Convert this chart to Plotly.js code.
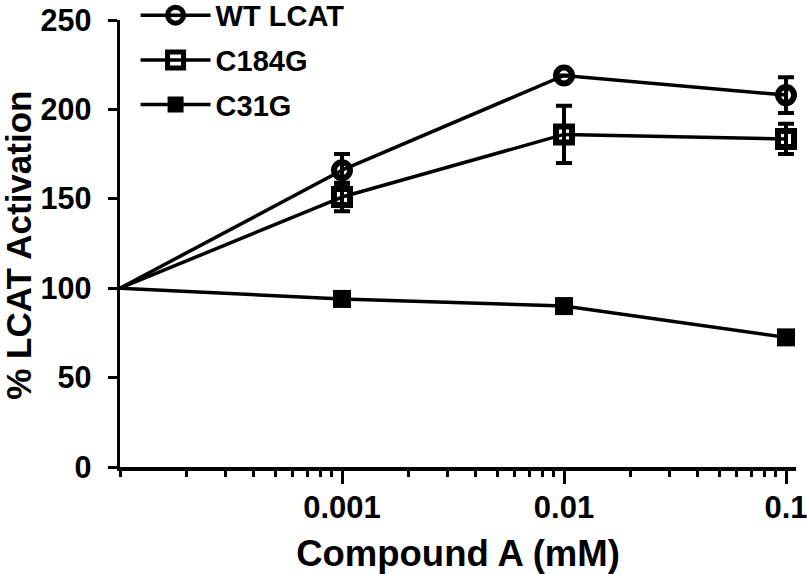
<!DOCTYPE html>
<html><head><meta charset="utf-8">
<script src="https://cdn.plot.ly/plotly-3.0.1.min.js"></script>
<style>html,body{margin:0;padding:0;background:#fff}</style>
</head><body><div id="chart" style="width:807px;height:574px"></div>
<script>
// ---- data ----
const baselineDose = 0.0001;   // untreated control, plotted at the axis origin
const baselineValue = 100;
const doses = [0.001, 0.01, 0.1];
const wtLCAT = [166, 219, 208];
const wtLCATErr = [9, 0, 10];
const c184G = [151, 186, 183.5];
const c184GErr = [8, 16, 8.5];
const c31G = [94, 90, 72.5];
const c31GErr = [1.5, 1.5, 1.5];
const seriesNames = ['WT LCAT', 'C184G', 'C31G'];
const xTickVals = [0.001, 0.01, 0.1];
const xTickText = ['0.001', '0.01', '0.1'];
const yTickVals = [0, 50, 100, 150, 200, 250];
const xTitle = 'Compound A (mM)';
const yTitle = '% LCAT Activation';

const FONT = 'Liberation Sans, Arial, Helvetica, sans-serif';
const series = [
  {name: seriesNames[0], y: wtLCAT, err: wtLCATErr, symbol: 'circle-open', size: 16},
  {name: seriesNames[1], y: c184G, err: c184GErr, symbol: 'square-open', size: 16},
  {name: seriesNames[2], y: c31G, err: c31GErr, symbol: 'square', size: 18}
];

const traces = [];
series.forEach(s => {
  traces.push({
    x: [baselineDose, doses[0]], y: [baselineValue, s.y[0]],
    mode: 'lines', line: {color: 'black', width: 3.5},
    showlegend: false, hoverinfo: 'skip', cliponaxis: false
  });
});
series.forEach((s, i) => {
  traces.push({
    x: doses, y: s.y, name: s.name, mode: 'lines+markers', legendgroup: 'g' + i,
    line: {color: 'black', width: 3.5},
    marker: {symbol: s.symbol, size: s.size, color: 'black',
             line: {color: 'black', width: s.symbol.endsWith('open') ? 6 : 0}},
    error_y: {type: 'data', array: s.err, visible: true, color: 'black', thickness: 4, width: 8},
    cliponaxis: false
  });
});

const layout = {
  width: 807, height: 574,
  margin: {l: 120, r: 11, t: 20, b: 107, autoexpand: false},
  paper_bgcolor: 'white', plot_bgcolor: 'white',
  font: {family: FONT, color: 'black', size: 28, weight: 700},
  showlegend: true,
  legend: {
    xref: 'container', yref: 'paper', x: 0.168, y: 1.0675, xanchor: 'left', yanchor: 'top',
    bgcolor: 'rgba(0,0,0,0)', font: {family: FONT, size: 29, weight: 700, color: 'black'},
    itemwidth: 70, tracegroupgap: 4, traceorder: 'grouped'
  },
  xaxis: {
    type: 'log', range: [-4, -0.955],
    tickmode: 'array', tickvals: xTickVals, ticktext: xTickText,
    ticks: 'outside', ticklen: 13, tickwidth: 3, tickcolor: 'black',
    minor: {ticks: 'outside', ticklen: 6, tickwidth: 3, tickcolor: 'black', dtick: 'D1', showgrid: false},
    showline: true, linewidth: 3.5, linecolor: 'black',
    showgrid: false, zeroline: false, ticklabelstandoff: -3, ticklabeloverflow: 'allow',
    tickfont: {family: FONT, size: 31, weight: 700},
    title: {text: xTitle, font: {family: FONT, size: 36.5, weight: 700}}
  },
  yaxis: {
    range: [0, 250], tickmode: 'array', tickvals: yTickVals,
    ticks: 'outside', ticklen: 9, tickwidth: 3, tickcolor: 'black',
    showline: true, linewidth: 3.5, linecolor: 'black',
    showgrid: false, zeroline: false, ticklabelstandoff: 10,
    tickfont: {family: FONT, size: 30.5, weight: 700}
  },
  annotations: [{
    text: yTitle, textangle: -90, showarrow: false,
    xref: 'paper', yref: 'paper', x: (19 - 120) / 676, y: 0.495,
    xanchor: 'center', yanchor: 'middle',
    font: {family: FONT, size: 35, weight: 700, color: 'black'}
  }]
};

Plotly.newPlot('chart', traces, layout, {displayModeBar: false, staticPlot: true});
</script></body></html>
